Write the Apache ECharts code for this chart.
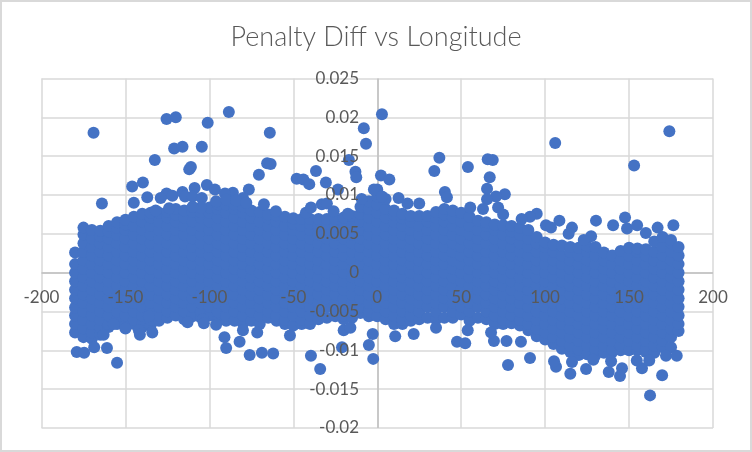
<!DOCTYPE html>
<html><head><meta charset="utf-8">
<style>html,body{margin:0;padding:0;background:#fff}#c{width:752px;height:452px}</style>
<script src="https://cdn.jsdelivr.net/npm/echarts@6/dist/echarts.min.js"></script>
</head><body><div id="c"></div>
<script>
const chartTitle = "Penalty Diff vs Longitude";
// Values of Penalty Diff are listed in units of 0.0001.
const coreLon = [-180,-175,-170,-165,-160,-155,-150,-145,-140,-135,-130,-125,-120,-115,-110,-105,-100,-95,-90,-85,-80,-75,-70,-65,-60,-55,-50,-45,-40,-35,-30,-25,-20,-15,-10,-5,0,5,10,15,20,25,30,35,40,45,50,55,60,65,70,75,80,85,90,95,100,105,110,115,120,125,130,135,140,145,150,155,160,165,170,175,179.5];
const coreDiff = [
[-77,-66,-55,-45,-33,-22,-11,0,11,26],
[-83,-72,-61,-50,-39,-28,-17,-6,5,16,27,38,49,58],
[-85,-77,-66,-55,-44,-33,-22,-11,0,11,22,33,44,55],
[-80,-71,-61,-50,-39,-28,-17,-6,5,16,27,38,47,54],
[-70,-66,-55,-44,-33,-22,-11,0,11,22,33,44,53,60],
[-66,-61,-50,-39,-28,-17,-6,5,16,27,38,49,58,65],
[-68,-55,-44,-33,-22,-11,0,11,22,33,44,55,62,68],
[-66,-61,-50,-39,-28,-17,-6,5,16,27,38,49,60,72],
[-70,-66,-55,-44,-33,-22,-11,0,11,22,33,44,55,66,76],
[-68,-61,-50,-39,-28,-17,-6,5,16,27,38,49,60,71,77],
[-62,-55,-44,-33,-22,-11,0,11,22,33,44,55,66,77],
[-58,-50,-39,-28,-17,-6,5,16,27,38,49,60,71,78],
[-55,-44,-33,-22,-11,0,11,22,33,44,55,66,75,82],
[-60,-50,-39,-28,-17,-6,5,16,27,38,49,60,71,80],
[-56,-44,-33,-22,-11,0,11,22,33,44,55,66,78],
[-58,-50,-39,-28,-17,-6,5,16,27,38,49,60,71,78],
[-55,-44,-33,-22,-11,0,11,22,33,44,55,66,77,84],
[-62,-50,-39,-28,-17,-6,5,16,27,38,49,60,71,82,88],
[-62,-55,-44,-33,-22,-11,0,11,22,33,44,55,66,77,88],
[-62,-50,-39,-28,-17,-6,5,16,27,38,49,60,71,82,88],
[-65,-55,-44,-33,-22,-11,0,11,22,33,44,55,66,77,85],
[-62,-50,-39,-28,-17,-6,5,16,27,38,49,60,71,80],
[-66,-55,-44,-33,-22,-11,0,11,22,33,44,55,66,78],
[-58,-50,-39,-28,-17,-6,5,16,27,38,49,60,70,75],
[-62,-55,-44,-33,-22,-11,0,11,22,33,44,55,66,74],
[-66,-61,-50,-39,-28,-17,-6,5,16,27,38,49,60,72],
[-68,-55,-44,-33,-22,-11,0,11,22,33,44,55,63,70],
[-66,-61,-50,-39,-28,-17,-6,5,16,27,38,49,60,69],
[-66,-55,-44,-33,-22,-11,0,11,22,33,44,55,63,69],
[-60,-50,-39,-28,-17,-6,5,16,27,38,49,60,69],
[-58,-44,-33,-22,-11,0,11,22,33,44,55,63,69],
[-56,-50,-39,-28,-17,-6,5,16,27,38,49,60,69],
[-60,-55,-44,-33,-22,-11,0,11,22,33,44,55,64,71],
[-58,-50,-39,-28,-17,-6,5,16,27,38,49,60,73],
[-52,-44,-33,-22,-11,0,11,22,33,44,55,66,76,85],
[-56,-50,-39,-28,-17,-6,5,16,27,38,49,60,71,82,92],
[-56,-44,-33,-22,-11,0,11,22,33,44,55,66,77,88,98,107],
[-60,-50,-39,-28,-17,-6,5,16,27,38,49,60,71,82,95],
[-66,-55,-44,-33,-22,-11,0,11,22,33,44,55,66,75,80],
[-66,-61,-50,-39,-28,-17,-6,5,16,27,38,49,60,70,76],
[-62,-55,-44,-33,-22,-11,0,11,22,33,44,55,66,73],
[-60,-50,-39,-28,-17,-6,5,16,27,38,49,60,73],
[-58,-44,-33,-22,-11,0,11,22,33,44,55,66,73],
[-60,-50,-39,-28,-17,-6,5,16,27,38,49,60,71,78],
[-58,-44,-33,-22,-11,0,11,22,33,44,55,66,75,82],
[-58,-50,-39,-28,-17,-6,5,16,27,38,49,60,71,80],
[-54,-44,-33,-22,-11,0,11,22,33,44,55,66,77],
[-62,-50,-39,-28,-17,-6,5,16,27,38,49,60,72],
[-58,-44,-33,-22,-11,0,11,22,33,44,55,67],
[-60,-50,-39,-28,-17,-6,5,16,27,38,49,60,65],
[-66,-55,-44,-33,-22,-11,0,11,22,33,44,55,62],
[-66,-61,-50,-39,-28,-17,-6,5,16,27,38,49,61],
[-65,-55,-44,-33,-22,-11,0,11,22,33,44,53,60],
[-68,-61,-50,-39,-28,-17,-6,5,16,27,38,49,58],
[-74,-66,-55,-44,-33,-22,-11,0,11,22,33,44,55],
[-82,-72,-61,-50,-39,-28,-17,-6,5,16,27,38,46],
[-86,-77,-66,-55,-44,-33,-22,-11,0,11,22,33,39],
[-92,-83,-72,-61,-50,-39,-28,-17,-6,5,16,27,36],
[-98,-88,-77,-66,-55,-44,-33,-22,-11,0,11,22,35],
[-102,-94,-83,-72,-61,-50,-39,-28,-17,-6,5,16,27,33],
[-106,-99,-88,-77,-66,-55,-44,-33,-22,-11,0,11,22,32],
[-105,-94,-83,-72,-61,-50,-39,-28,-17,-6,5,16,27,34],
[-106,-99,-88,-77,-66,-55,-44,-33,-22,-11,0,11,22,33],
[-103,-94,-83,-72,-61,-50,-39,-28,-17,-6,5,16,26],
[-102,-99,-88,-77,-66,-55,-44,-33,-22,-11,0,11,22],
[-100,-94,-83,-72,-61,-50,-39,-28,-17,-6,5,16,28],
[-100,-88,-77,-66,-55,-44,-33,-22,-11,0,11,22,32],
[-100,-94,-83,-72,-61,-50,-39,-28,-17,-6,5,16,27,31],
[-102,-99,-88,-77,-66,-55,-44,-33,-22,-11,0,11,22,30],
[-103,-94,-83,-72,-61,-50,-39,-28,-17,-6,5,16,27,40],
[-96,-88,-77,-66,-55,-44,-33,-22,-11,0,11,22,33,46],
[-96,-83,-72,-61,-50,-39,-28,-17,-6,5,16,27,38,42],
[-75,-66,-55,-44,-33,-22,-11,0,11,22,33]
];
const outlierLon = [-169,-125.5,-120,-101,-88.4,-64,-8,-6.7,-121,-116,-104.5,-132.5,-112,-111,-70.5,-65.6,-63.5,-48,-44,-40.5,-36.5,-30.6,-23.4,-16.9,-13,-12.5,-146,-139.6,-137,-145,-164,-108.8,-101.5,-96.7,-116,-125.5,-129,-122,-114.5,-110,-104.5,-86,-90.7,-76.5,-80,-67.5,-60.4,-42.5,-39.5,-33,-30,-26,-17.5,-9.3,-2,2.8,106,174,153,37,34,54,65.8,68.8,67,65.4,76,70.7,65.4,63,72,75,55.4,40.3,41.5,25,12.7,18,2.2,7.2,2.8,108.5,100.5,103.5,116,114,95,91,86,130.3,140.5,147.6,148.8,154.8,160,167,176.4,127.4,123,162.5,169.7,77.9,115,124.4,106.5,105.3,137.9,145.8,144.6,157.7,91,47.5,52.4,21.7,10.7,35,69.5,77,85.6,139.3,116,128.7,162,172,178.4,154.6,53.9,67.8,-179,-174.6,-168.6,-161,-155,-163,-157,-150,-142,-141.4,-134,-136,-113,-103.7,-103.3,-96,-91,-90,-82,-80,-76,-71.5,-68.7,-62,-52,-39.5,-34,-21,-20,-16,-5,-2.4,-2.7,-96,-90,-84,-78,-105,-110,-124,-132];
const outlierDiff = [180,198,200,193,207,180,186,166,160,162,162,145,133,136,126,141,140,121,120,114,131,116,107,145,130,123,111,116,97,90,89,109,113,107,104,102,96,99,98,98,96,103,102,107,96,88,79,77,84,88,89,79,76,95,107,204,167,182,138,148,131,136,146,145,123,108,101,98,94.5,82,84,75,84,104,97,89,96,89,125,120,98,67,61,58,58,50,76,72,69,67,61,71,57,61,51,58,61,47,42,-158,-132,-119,-130,-124,-121,-114,-128,-123,-133,-123,-110,-89,-91,-79,-82,-71,-88,-88,-89,-114,-115,-112,-113,-107,-107,-113,-74,-77,-102,-103,-96,-97,-116,-80,-66,-72,-74,-80,-77,-56,-64,-60,-65,-67,-83,-97,-89,-74,-106,-77,-103,-104,-81,-107,-124,-96,-74,-71,-93,-111,-79,92,94,93,90,84,85,83,80];
const xTicks = {min:-200,max:200,interval:50};
const yTicks = {min:-0.02,max:0.025,interval:0.005};

const points = [];
coreLon.forEach((lon,i)=>coreDiff[i].forEach(d=>points.push([lon,d/10000])));
outlierLon.forEach((lon,i)=>points.push([lon,outlierDiff[i]/10000]));

const fontFamily = 'Lato, "Open Sans", sans-serif';
const labelStyle = {color:'#595959',fontSize:17,fontFamily};
const fmtY = v => String(+v.toFixed(3));
const chart = echarts.init(document.getElementById('c'),null,{renderer:'canvas'});
chart.setOption({
  animation:false,
  backgroundColor:'#fff',
  title:{text:chartTitle,left:371,top:19,textAlign:'center',
    textStyle:{color:'#595959',fontSize:27,fontWeight:300,fontFamily}},
  grid:{left:41.5,right:39,top:78.5,bottom:24,containLabel:false},
  xAxis:[
    {type:'value',...xTicks,z:0,axisLine:{show:false},axisTick:{show:false},axisLabel:{show:false},
     splitLine:{show:true,lineStyle:{color:'#D9D9D9',width:1.5}}},
    {type:'value',...xTicks,z:10,position:'bottom',axisLine:{show:false,onZero:false},axisTick:{show:false},splitLine:{show:false},
     offset:-155.7,axisLabel:{...labelStyle,margin:17}}
  ],
  yAxis:[
    {type:'value',...yTicks,z:0,axisLine:{show:false},axisTick:{show:false},axisLabel:{show:false},
     splitLine:{show:true,lineStyle:{color:'#D9D9D9',width:1.5}}},
    {type:'value',...yTicks,z:10,position:'left',axisLine:{show:false,onZero:false},axisTick:{show:false},splitLine:{show:false},
     offset:-335.5,axisLabel:{...labelStyle,margin:18,formatter:fmtY}}
  ],
  graphic:[{type:'rect',silent:true,z:-1,shape:{x:1,y:1,width:750,height:450},
    style:{fill:'none',stroke:'#D9D9D9',lineWidth:2}}],
  series:[{type:'scatter',xAxisIndex:0,yAxisIndex:0,z:5,symbol:'circle',symbolSize:12,
    large:false,itemStyle:{color:'#4472C4',opacity:1},data:points,
    markLine:{silent:true,symbol:'none',label:{show:false},animation:false,z:1,
      lineStyle:{color:'#BFBFBF',width:1.5,type:'solid'},data:[{xAxis:0},{yAxis:0}]}}]
});
</script></body></html>
